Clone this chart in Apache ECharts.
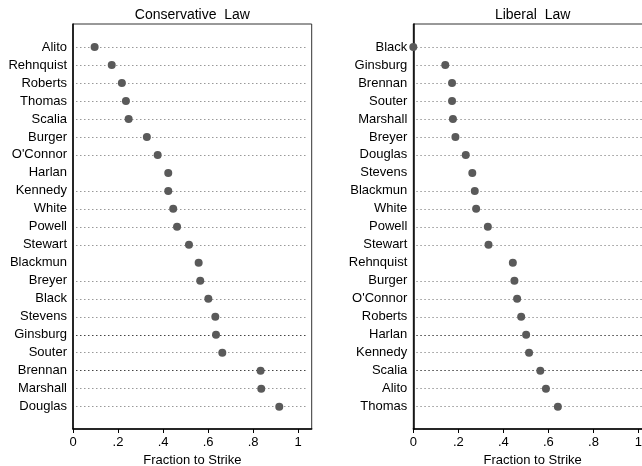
<!DOCTYPE html>
<html>
<head>
<meta charset="utf-8">
<script src="https://cdn.jsdelivr.net/npm/echarts@6/dist/echarts.min.js"></script>
<style>
html,body{margin:0;padding:0;background:#fff;}
#c{width:642px;height:466px;}
</style>
</head>
<body>
<div id="c"></div>
<script>
// Conservative Law panel
const consNames = ["Alito","Rehnquist","Roberts","Thomas","Scalia","Burger","O'Connor","Harlan","Kennedy","White","Powell","Stewart","Blackmun","Breyer","Black","Stevens","Ginsburg","Souter","Brennan","Marshall","Douglas"];
const consValues = [0.096,0.172,0.217,0.235,0.247,0.328,0.376,0.423,0.423,0.445,0.462,0.515,0.558,0.565,0.601,0.632,0.635,0.663,0.833,0.836,0.916];
// Liberal Law panel
const libNames = ["Black","Ginsburg","Brennan","Souter","Marshall","Breyer","Douglas","Stevens","Blackmun","White","Powell","Stewart","Rehnquist","Burger","O'Connor","Roberts","Harlan","Kennedy","Scalia","Alito","Thomas"];
const libValues = [0.0,0.142,0.172,0.172,0.176,0.187,0.233,0.262,0.273,0.279,0.331,0.334,0.442,0.449,0.461,0.479,0.501,0.514,0.564,0.589,0.642];
const xTicks = [0,0.2,0.4,0.6,0.8,1];
const panelTitles = ["Conservative  Law","Liberal  Law"];
const xTitle = "Fraction to Strike";

const FONT = "Liberation Sans, Arial, Helvetica, sans-serif";
const XMAX = 1.06;
const W = 238.7;
const SCALE = W / XMAX;
const PADL = 3, PADR = 4;
const lineColors = consNames.map((_, i) => (i === 7 || i === 12) ? 'rgba(0,0,0,0)' : ((i === 16 || i === 18) ? '#444' : '#999'));

function fmt(v){ if (v === 0) return '0'; if (v === 1) return '1'; return String(v).replace(/^0/, ''); }

const panels = [
  {left: 73, names: consNames, values: consValues, title: panelTitles[0]},
  {left: 413.3, names: libNames, values: libValues, title: panelTitles[1]}
];

const grids = [], xAxes = [], yAxes = [], series = [], texts = [];
panels.forEach((p, k) => {
  const gA = grids.length;
  grids.push({left: p.left, width: W, top: 24, height: 405, show: true, borderColor: '#333', borderWidth: 1, backgroundColor: '#fff', outerBoundsMode: 'none', containLabel: false});
  grids.push({left: p.left + PADL, width: W - PADL - PADR, top: 47, height: 359.7, show: false, outerBoundsMode: 'none', containLabel: false});
  xAxes.push({
    gridIndex: gA, type: 'value', min: 0, max: XMAX,
    axisLine: {show: true, lineStyle: {color: '#000', width: 1.5}},
    axisTick: {show: true, length: 4, customValues: xTicks, lineStyle: {color: '#000', width: 1}},
    axisLabel: {show: true, customValues: xTicks, formatter: fmt, fontSize: 13, color: '#000', fontFamily: FONT, margin: 7},
    splitLine: {show: false},
    name: xTitle, nameLocation: 'middle', nameGap: 22,
    nameTextStyle: {fontSize: 13, color: '#000', fontFamily: FONT}
  });
  xAxes.push({gridIndex: gA + 1, type: 'value', min: PADL / SCALE, max: XMAX - PADR / SCALE, show: false});
  yAxes.push({
    gridIndex: gA, type: 'value', min: 0, max: 1,
    axisLine: {show: true, lineStyle: {color: '#000', width: 1.5}},
    axisTick: {show: false}, axisLabel: {show: false}, splitLine: {show: false}
  });
  yAxes.push({
    gridIndex: gA + 1, type: 'category', data: p.names, inverse: true, boundaryGap: false,
    axisLine: {show: false}, axisTick: {show: false},
    axisLabel: {fontSize: 13, color: '#000', fontFamily: FONT, margin: 6 + PADL, interval: 0},
    splitLine: {show: true, interval: 0, lineStyle: {color: lineColors, type: [1.5, 2.5], width: 1}}
  });
  series.push({
    type: 'scatter', xAxisIndex: gA + 1, yAxisIndex: gA + 1,
    data: p.names.map((n, i) => [p.values[i], n]),
    symbolSize: 8, itemStyle: {color: '#5a5a5a', opacity: 1}, clip: false, z: 5
  });
  texts.push({type: 'text', x: p.left + W / 2, y: 15, z: 10,
    style: {text: p.title, align: 'center', verticalAlign: 'middle', fontSize: 14, fill: '#000', fontFamily: FONT}});
});

const chart = echarts.init(document.getElementById('c'), null, {renderer: 'canvas'});
chart.setOption({
  animation: false,
  backgroundColor: '#fff',
  grid: grids,
  xAxis: xAxes,
  yAxis: yAxes,
  series: series,
  graphic: texts
});
</script>
</body>
</html>
